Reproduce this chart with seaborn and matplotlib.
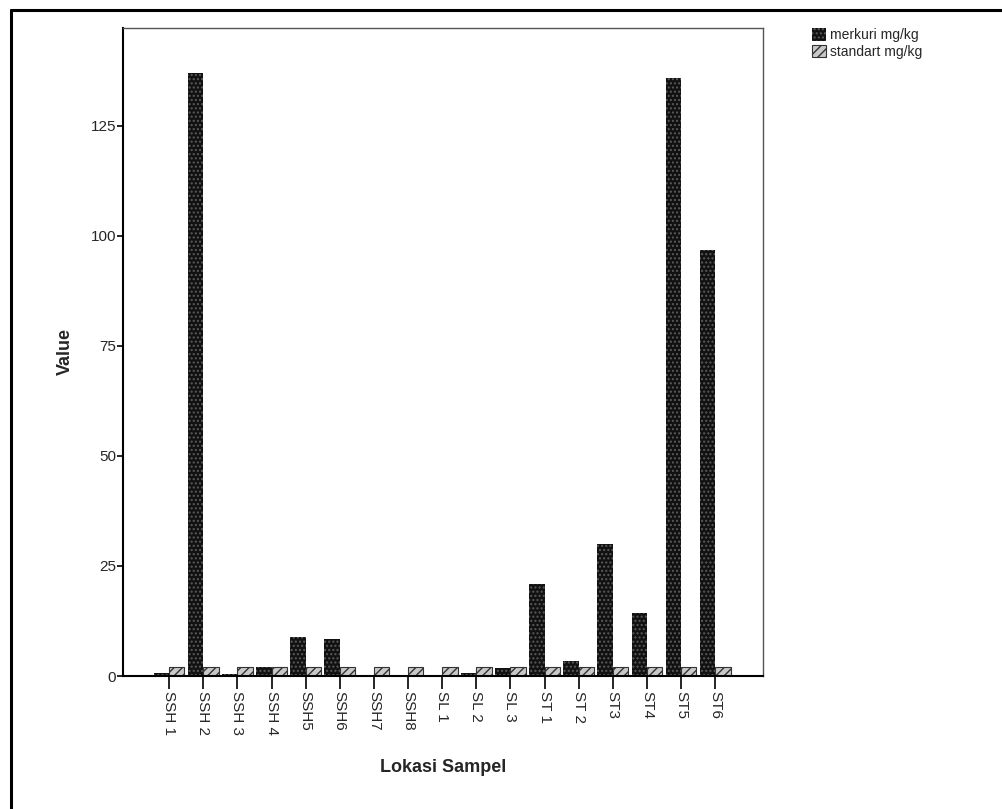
import numpy as np
import pandas as pd
import matplotlib
matplotlib.use('Agg')
import matplotlib.pyplot as plt
from matplotlib.patches import Patch
from matplotlib.lines import Line2D
import seaborn as sns

# data
lokasi = ['SSH 1', 'SSH 2', 'SSH 3', 'SSH 4', 'SSH5', 'SSH6', 'SSH7', 'SSH8',
          'SL 1', 'SL 2', 'SL 3', 'ST 1', 'ST 2', 'ST3', 'ST4', 'ST5', 'ST6']
merkuri = [0.6, 137.0, 0.5, 2.0, 8.8, 8.4, 0.05, 0.2,
           0.2, 0.7, 1.9, 20.9, 3.5, 30.0, 14.3, 135.8, 96.8]
standart = [2.0] * 17
series_names = ['merkuri mg/kg', 'standart mg/kg']
y_ticks = [0, 25, 50, 75, 100, 125]

df = pd.DataFrame({
    'lokasi': lokasi * 2,
    'value': merkuri + standart,
    'seri': [series_names[0]] * len(lokasi) + [series_names[1]] * len(lokasi),
})

sns.set_style('white')
plt.rcParams['font.family'] = ['Liberation Sans', 'DejaVu Sans']
plt.rcParams['hatch.linewidth'] = 1.0

fig = plt.figure(figsize=(10.02, 8.09), dpi=100)
ax = fig.add_axes([0.1228, 0.1644, 0.6387, 0.801])

sns.barplot(data=df, x='lokasi', y='value', hue='seri', order=lokasi,
            hue_order=series_names, width=0.9, palette=['#111111', '#bdbdbd'],
            errorbar=None, ax=ax, legend=False)

# patterns like the original SPSS fills
n = len(lokasi)
for i, bar in enumerate(ax.patches[:2 * n]):
    if i < n:
        bar.set_facecolor('#111111')
        bar.set_edgecolor('#5a5a5a')
        bar.set_hatch('....')
        bar.set_linewidth(0.0)
    else:
        bar.set_facecolor('#c8c8c8')
        bar.set_edgecolor('#333333')
        bar.set_hatch('////')
        bar.set_linewidth(0.8)

ax.set_xlim(-1.35, n - 1 + 1.4)
ax.set_ylim(0, 147.2)
ax.set_yticks(y_ticks)
ax.set_yticklabels([str(t) for t in y_ticks], fontsize=11)
ax.set_xticks(range(n))
ax.set_xticklabels(lokasi, rotation=270, fontsize=11)

ax.tick_params(axis='y', direction='out', length=4, width=1.2, color='black',
               left=True, pad=1)
ax.tick_params(axis='x', direction='out', length=9, width=1.2, color='black',
               bottom=True, pad=2)

for side in ['left', 'bottom']:
    ax.spines[side].set_color('black')
    ax.spines[side].set_linewidth(1.5)
for side in ['top', 'right']:
    ax.spines[side].set_color('#555555')
    ax.spines[side].set_linewidth(1.0)

ax.set_xlabel('Lokasi Sampel', fontsize=13, fontweight='bold', labelpad=17)
ax.set_ylabel('Value', fontsize=13, fontweight='bold', labelpad=12)

handles = [
    Patch(facecolor='#111111', edgecolor='#5a5a5a', hatch='....', linewidth=0),
    Patch(facecolor='#c8c8c8', edgecolor='#333333', hatch='////', linewidth=0.8),
]
fig.legend(handles, series_names, loc='upper left', bbox_to_anchor=(0.805, 0.972),
           frameon=False, fontsize=10, handlelength=1.0, handleheight=1.0,
           handletextpad=0.3, labelspacing=0.2, borderaxespad=0)

# outer frame (only top and left edges are visible in the original)
fig.add_artist(Line2D([0.011, 1.0], [1 - 10 / 809, 1 - 10 / 809], color='black',
                      linewidth=2.2, transform=fig.transFigure))
fig.add_artist(Line2D([0.011, 0.011], [0.0, 1 - 10 / 809], color='black',
                      linewidth=2.2, transform=fig.transFigure))

plt.savefig('out.png', dpi=100)
